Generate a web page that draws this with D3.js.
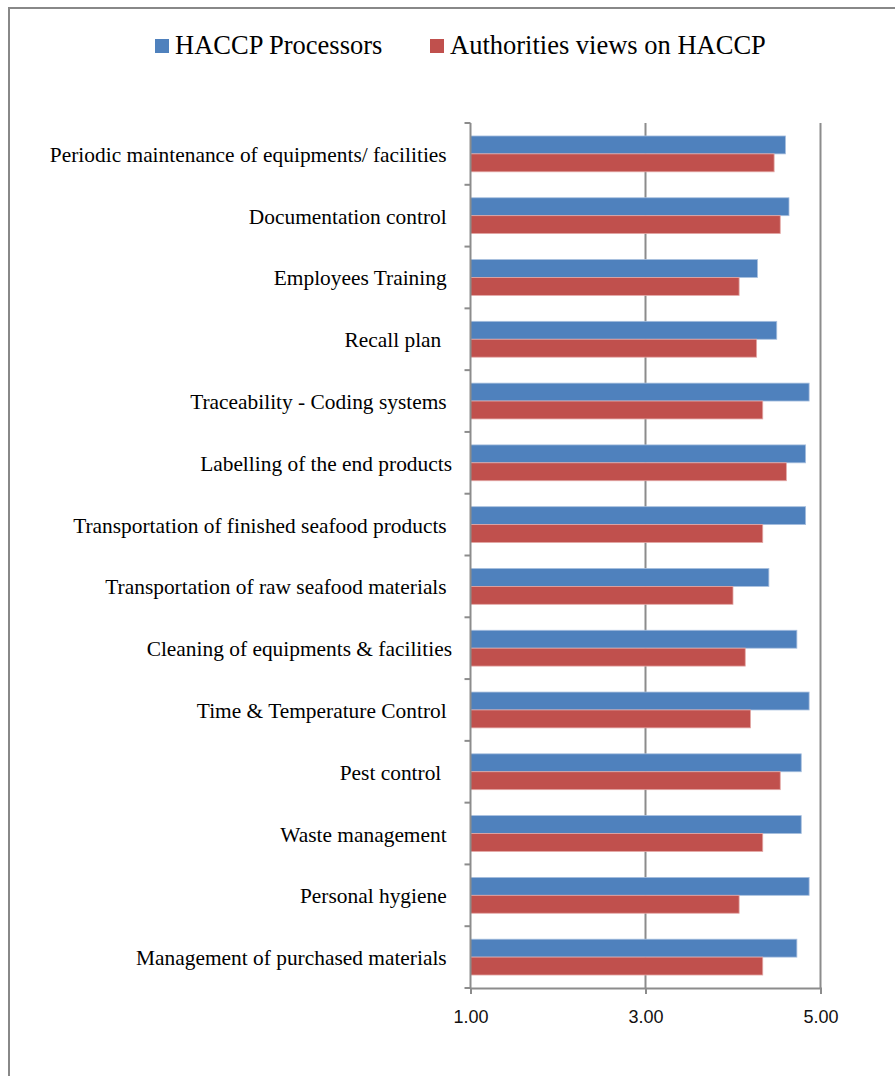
<!DOCTYPE html>
<html>
<head>
<meta charset="utf-8">
<script src="https://cdn.jsdelivr.net/npm/d3@7"></script>
<style>
  body { margin: 0; background: #fff; }
  svg { display: block; }
</style>
</head>
<body>
<svg class="chart" width="895" height="1076"></svg>
<script>
// categories top to bottom (trailing spaces kept as in the source labels)
var categories = [
  "Periodic maintenance of equipments/ facilities ",
  "Documentation control ",
  "Employees Training ",
  "Recall plan  ",
  "Traceability - Coding systems ",
  "Labelling of the end products",
  "Transportation of finished seafood products ",
  "Transportation of raw seafood materials ",
  "Cleaning of equipments & facilities",
  "Time & Temperature Control ",
  "Pest control  ",
  "Waste management ",
  "Personal hygiene ",
  "Management of purchased materials "
];
var processors  = [4.60, 4.64, 4.28, 4.50, 4.87, 4.83, 4.83, 4.41, 4.73, 4.87, 4.78, 4.78, 4.87, 4.73];
var authorities = [4.47, 4.54, 4.07, 4.27, 4.34, 4.61, 4.34, 4.00, 4.14, 4.20, 4.54, 4.34, 4.07, 4.34];
var seriesNames = ["HACCP Processors", "Authorities views on HACCP"];
var seriesColors = ["#4F81BD", "#C0504D"];
var strokeColors = ["#A7BFDE", "#E3A8A6"];
var tickValues = [1, 3, 5];

var svg = d3.select("svg.chart");

// outer frame (runs off the right and bottom edges)
svg.append("rect")
    .attr("x", 9).attr("y", 8)
    .attr("width", 900).attr("height", 1080)
    .attr("fill", "none")
    .attr("stroke", "#888")
    .attr("stroke-width", 2);

var plotLeft = 470.5, plotRight = 820.5, plotTop = 123, plotBottom = 988;

var x = d3.scaleLinear().domain([1, 5]).range([plotLeft, plotRight]);
var y = d3.scaleBand().domain(categories).range([plotTop, plotBottom]).paddingInner(0.42).paddingOuter(0.21);
var ySub = d3.scaleBand().domain([0, 1]).range([0, y.bandwidth()]);

// gridlines
svg.append("g").selectAll("line")
    .data(tickValues.slice(1))
    .enter().append("line")
    .attr("x1", function(d) { return x(d); })
    .attr("x2", function(d) { return x(d); })
    .attr("y1", plotTop).attr("y2", plotBottom)
    .attr("stroke", "#8c8c8c")
    .attr("stroke-width", 2);

// bars
var rows = categories.map(function(c, i) { return {cat: c, vals: [processors[i], authorities[i]]}; });
var grp = svg.append("g").selectAll("g")
    .data(rows)
    .enter().append("g")
    .attr("transform", function(d) { return "translate(0," + y(d.cat) + ")"; });
grp.selectAll("rect")
    .data(function(d) { return d.vals; })
    .enter().append("rect")
    .attr("x", x(1))
    .attr("y", function(d, i) { return ySub(i); })
    .attr("width", function(d) { return x(d) - x(1); })
    .attr("height", ySub.bandwidth())
    .attr("fill", function(d, i) { return seriesColors[i]; })
    .attr("stroke", function(d, i) { return strokeColors[i]; })
    .attr("stroke-width", 0.8);

// y axis line + category ticks
var step = (plotBottom - plotTop) / categories.length;
var yTicks = d3.range(categories.length + 1).map(function(i) { return plotTop + i * step; });
svg.append("line")
    .attr("x1", plotLeft).attr("x2", plotLeft)
    .attr("y1", plotTop).attr("y2", plotBottom)
    .attr("stroke", "#8c8c8c").attr("stroke-width", 2);
svg.append("g").selectAll("line")
    .data(yTicks)
    .enter().append("line")
    .attr("x1", plotLeft - 6).attr("x2", plotLeft)
    .attr("y1", function(d) { return d; })
    .attr("y2", function(d) { return d; })
    .attr("stroke", "#8c8c8c").attr("stroke-width", 2);

// category labels
svg.append("g").selectAll("text")
    .data(categories)
    .enter().append("text")
    .attr("x", 452)
    .attr("y", function(d) { return y(d) + y.bandwidth() / 2 + 8; })
    .attr("text-anchor", "end")
    .style("white-space", "pre")
    .style("font-family", "'Liberation Serif', 'Times New Roman', serif")
    .style("font-size", "21.4px")
    .attr("fill", "#000")
    .text(function(d) { return d; });

// x axis
var xAxis = svg.append("g")
    .attr("transform", "translate(0," + plotBottom + ")")
    .call(d3.axisBottom(x).tickValues(tickValues).tickSize(6).tickPadding(16)
      .tickFormat(d3.format(".2f")));
xAxis.select(".domain").attr("stroke", "#8c8c8c").attr("stroke-width", 2);
xAxis.selectAll(".tick line").attr("stroke", "#8c8c8c").attr("stroke-width", 2);
xAxis.selectAll(".tick text")
    .style("font-family", "'Liberation Sans', Arial, sans-serif")
    .style("font-size", "18px")
    .attr("fill", "#111");

// legend
var legendX = [155, 430];
var legend = svg.append("g").selectAll("g")
    .data(seriesNames)
    .enter().append("g")
    .attr("transform", function(d, i) { return "translate(" + legendX[i] + ",39)"; });
legend.append("rect")
    .attr("width", 14).attr("height", 14)
    .attr("fill", function(d, i) { return seriesColors[i]; });
legend.append("text")
    .attr("x", 20).attr("y", 15)
    .style("font-family", "'Liberation Serif', 'Times New Roman', serif")
    .style("font-size", "26.5px")
    .attr("fill", "#000")
    .text(function(d) { return d; });
</script>
</body>
</html>
